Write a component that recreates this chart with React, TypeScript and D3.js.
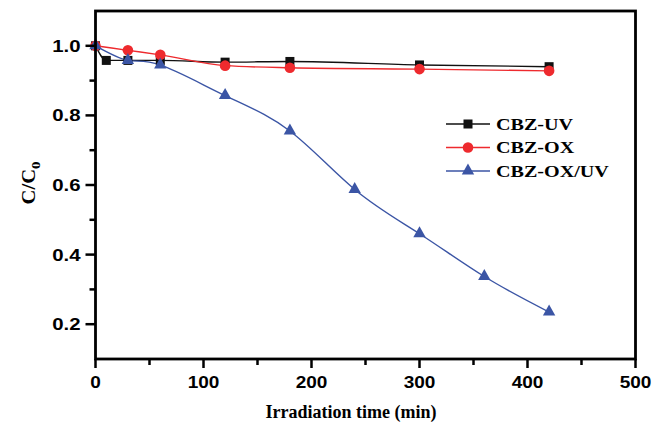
import React from "react";
import * as d3 from "d3";

const xTicks = [0, 100, 200, 300, 400, 500];
const xMinor = [50, 150, 250, 350, 450];
const yTicks = [0.2, 0.4, 0.6, 0.8, 1.0];
const yMinor = [0.3, 0.5, 0.7, 0.9];

const uvTime = [0, 10, 30, 60, 120, 180, 300, 420];
const uvVal = [1.0, 0.958, 0.958, 0.958, 0.953, 0.955, 0.945, 0.94];
const oxTime = [0, 30, 60, 120, 180, 300, 420];
const oxVal = [1.0, 0.987, 0.974, 0.943, 0.937, 0.933, 0.928];
const oxuvTime = [0, 30, 60, 120, 180, 240, 300, 360, 420];
const oxuvVal = [1.0, 0.958, 0.945, 0.857, 0.755, 0.587, 0.46, 0.337, 0.235];

const seriesNames = ["CBZ-UV", "CBZ-OX", "CBZ-OX/UV"];
const seriesColors = ["#111111", "#ee2a2e", "#3b55a5"];

export default function App() {
  const W = 664, H = 425;
  const x = d3.scaleLinear().domain([0, 500]).range([95.5, 635.5]);
  const y = d3.scaleLinear().domain([0.1, 1.1]).range([359, 11]);
  const series = [
    { t: uvTime, v: uvVal, shape: "square", curve: d3.curveMonotoneX },
    { t: oxTime, v: oxVal, shape: "circle", curve: d3.curveMonotoneX },
    { t: oxuvTime, v: oxuvVal, shape: "triangle", curve: d3.curveNatural },
  ];
  const mkLine = (curve: any) =>
    d3
      .line<[number, number]>()
      .x((d) => x(d[0]))
      .y((d) => y(d[1]))
      .curve(curve);

  const marker = (shape: string, cx: number, cy: number, color: string, key: any) => {
    if (shape === "square")
      return <rect key={key} x={cx - 4.5} y={cy - 4.5} width={9} height={9} fill={color} />;
    if (shape === "circle") return <circle key={key} cx={cx} cy={cy} r={5.3} fill={color} />;
    return (
      <path
        key={key}
        d={`M${cx},${cy - 7.5}L${cx + 6.2},${cy + 3.5}L${cx - 6.2},${cy + 3.5}Z`}
        fill={color}
      />
    );
  };

  const sansTick = { fontFamily: "'Liberation Sans', Arial, sans-serif", fontWeight: 700, fontSize: 17 };
  const serif = { fontFamily: "'Liberation Serif', 'Times New Roman', serif", fontWeight: 700 };

  const legendY = [124, 147.5, 171];

  return (
    <svg width={W} height={H} style={{ position: "absolute", left: 0, top: 0, background: "#fff" }}>
      {series.map((s, i) => (
        <path
          key={"l" + i}
          d={mkLine(s.curve)(s.t.map((t, j) => [t, s.v[j]] as [number, number])) || ""}
          fill="none"
          stroke={seriesColors[i]}
          strokeWidth={1.4}
        />
      ))}
      {series.map((s, i) =>
        s.t.map((t, j) => marker(s.shape, x(t), y(s.v[j]), seriesColors[i], "m" + i + "-" + j))
      )}
      <rect x={x(0)} y={y(1.1)} width={x(500) - x(0)} height={y(0.1) - y(1.1)} fill="none" stroke="#000" strokeWidth={2.8} />
      {yTicks.map((v) => (
        <g key={"yt" + v}>
          <line x1={x(0) - 10} x2={x(0)} y1={y(v)} y2={y(v)} stroke="#000" strokeWidth={2.5} />
          <text
            transform={`translate(${x(0) - 15},${y(v) + 6}) scale(1.2,1)`}
            textAnchor="end"
            style={sansTick}
          >
            {d3.format(".1f")(v)}
          </text>
        </g>
      ))}
      {yMinor.map((v) => (
        <line key={"ym" + v} x1={x(0) - 6} x2={x(0)} y1={y(v)} y2={y(v)} stroke="#000" strokeWidth={2.5} />
      ))}
      {xTicks.map((v) => (
        <g key={"xt" + v}>
          <line x1={x(v)} x2={x(v)} y1={y(0.1)} y2={y(0.1) + 9} stroke="#000" strokeWidth={2.5} />
          <text
            transform={`translate(${x(v)},${y(0.1) + 29}) scale(1.12,1)`}
            textAnchor="middle"
            style={sansTick}
          >
            {v}
          </text>
        </g>
      ))}
      {xMinor.map((v) => (
        <line key={"xm" + v} x1={x(v)} x2={x(v)} y1={y(0.1)} y2={y(0.1) + 6} stroke="#000" strokeWidth={2.5} />
      ))}
      <text
        transform={`translate(351,418) scale(1.0,1)`}
        textAnchor="middle"
        style={{ ...serif, fontSize: 18 }}
      >
        Irradiation time (min)
      </text>
      <text transform={`translate(35,183) rotate(-90) scale(1.15,1)`} textAnchor="middle" style={{ ...serif, fontSize: 18 }}>
        C/C<tspan dy={5} fontSize={13}>0</tspan>
      </text>
      {seriesNames.map((n, i) => (
        <g key={"lg" + i}>
          <line x1={446} x2={490} y1={legendY[i]} y2={legendY[i]} stroke={seriesColors[i]} strokeWidth={1.6} />
          {marker(series[i].shape, 468, legendY[i], seriesColors[i], "lm" + i)}
          <text
            transform={`translate(496,${legendY[i] + 5.5}) scale(1.22,1)`}
            style={{ ...serif, fontSize: 16.5 }}
          >
            {n}
          </text>
        </g>
      ))}
    </svg>
  );
}
